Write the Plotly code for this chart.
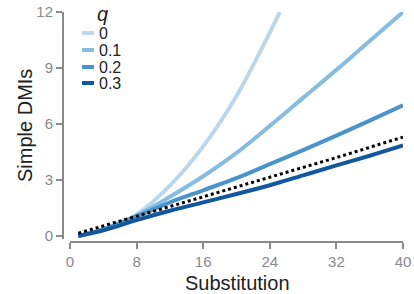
import plotly.graph_objects as go

x_sub = [1, 4, 8, 12, 16, 20, 24, 28, 32, 36, 40]
q_labels = ["0", "0.1", "0.2", "0.3"]
x_q0 = [1, 4, 8, 12, 16, 20, 24, 25.2]
y_q0 = [0.0, 0.3, 1.15, 2.7, 4.8, 7.5, 10.9, 12.0]
y_q1 = [0.0, 0.35, 1.1, 2.1, 3.2, 4.45, 5.9, 7.4, 8.9, 10.45, 12.0]
y_q2 = [0.0, 0.35, 1.05, 1.8, 2.45, 3.1, 3.85, 4.6, 5.38, 6.18, 7.0]
y_q3 = [0.0, 0.3, 0.85, 1.35, 1.8, 2.25, 2.72, 3.25, 3.78, 4.3, 4.85]
x_ref = [1, 8, 16, 24, 32, 40]
y_ref = [0.15, 1.05, 2.1, 3.15, 4.2, 5.3]
x_ticks = [0, 8, 16, 24, 32, 40]
y_ticks = [0, 3, 6, 9, 12]

colors = ["#bad7ec", "#86bce0", "#4a94c9", "#12589f"]
FONT = "Liberation Sans, Arial, sans-serif"
GRAY = "#8a8a8a"

fig = go.Figure()
series = [(x_q0, y_q0), (x_sub, y_q1), (x_sub, y_q2), (x_sub, y_q3)]
for (xs, ys), c, lab in zip(series, colors, q_labels):
    fig.add_trace(go.Scatter(x=xs, y=ys, mode="lines", name=lab,
                             line=dict(color=c, width=4, shape="spline", smoothing=1.0),
                             showlegend=False))
fig.add_trace(go.Scatter(x=x_ref, y=y_ref, mode="lines",
                         line=dict(color="black", width=3, dash="dot"),
                         showlegend=False))

W, H = 414, 294
ml, mr, mt, mb = 63, 11, 12, 52
pw, ph = W - ml - mr, H - mt - mb
ymin = -0.15
ydom0 = ((H - mb) - (236 + 0.15 * 224 / 12)) / ph
xdom0 = 7 / pw

def px_x(p):
    return (p - ml) / pw
def px_y(p):
    return 1 - (p - mt) / ph

fig.update_layout(
    width=W, height=H,
    margin=dict(l=ml, r=mr, t=mt, b=mb),
    paper_bgcolor="white", plot_bgcolor="white",
    font=dict(family=FONT),
    xaxis=dict(domain=[xdom0, 1], range=[0, 40], anchor="free", position=0, automargin=False,
               tickvals=x_ticks, ticks="outside", ticklen=6, tickwidth=2, tickcolor=GRAY,
               showline=True, linecolor=GRAY, linewidth=2, showgrid=False, zeroline=False,
               tickfont=dict(size=15, color=GRAY, family=FONT)),
    yaxis=dict(domain=[ydom0, 1], range=[ymin, 12], anchor="free", position=0, automargin=False,
               tickvals=y_ticks, ticks="outside", ticklen=6, tickwidth=2, tickcolor=GRAY,
               showline=True, linecolor=GRAY, linewidth=2, showgrid=False, zeroline=False,
               tickfont=dict(size=15, color=GRAY, family=FONT)),
)

# axis titles
fig.add_annotation(x=px_x(237), y=px_y(283), xref="paper", yref="paper", text="Substitution",
                   showarrow=False, font=dict(size=20, color="#222", family=FONT),
                   xanchor="center", yanchor="middle")
fig.add_annotation(x=px_x(25), y=px_y(126), xref="paper", yref="paper", text="Simple DMIs",
                   showarrow=False, textangle=-90, font=dict(size=20, color="#222", family=FONT),
                   xanchor="center", yanchor="middle")

# manual legend
fig.add_annotation(x=px_x(102), y=px_y(14), xref="paper", yref="paper", text="<i>q</i>",
                   showarrow=False, font=dict(size=20, color="#222", family=FONT),
                   xanchor="center", yanchor="middle")
ys_leg = [33, 50, 67, 83]
for lab, c, yy in zip(q_labels, colors, ys_leg):
    fig.add_shape(type="line", xref="paper", yref="paper",
                  x0=px_x(82), x1=px_x(94), y0=px_y(yy), y1=px_y(yy),
                  line=dict(color=c, width=4))
    fig.add_annotation(x=px_x(97), y=px_y(yy), xref="paper", yref="paper", text=lab,
                       showarrow=False, font=dict(size=16, color="#222", family=FONT),
                       xanchor="left", yanchor="middle", height=16, valign="middle")

fig.write_html("out.html")
